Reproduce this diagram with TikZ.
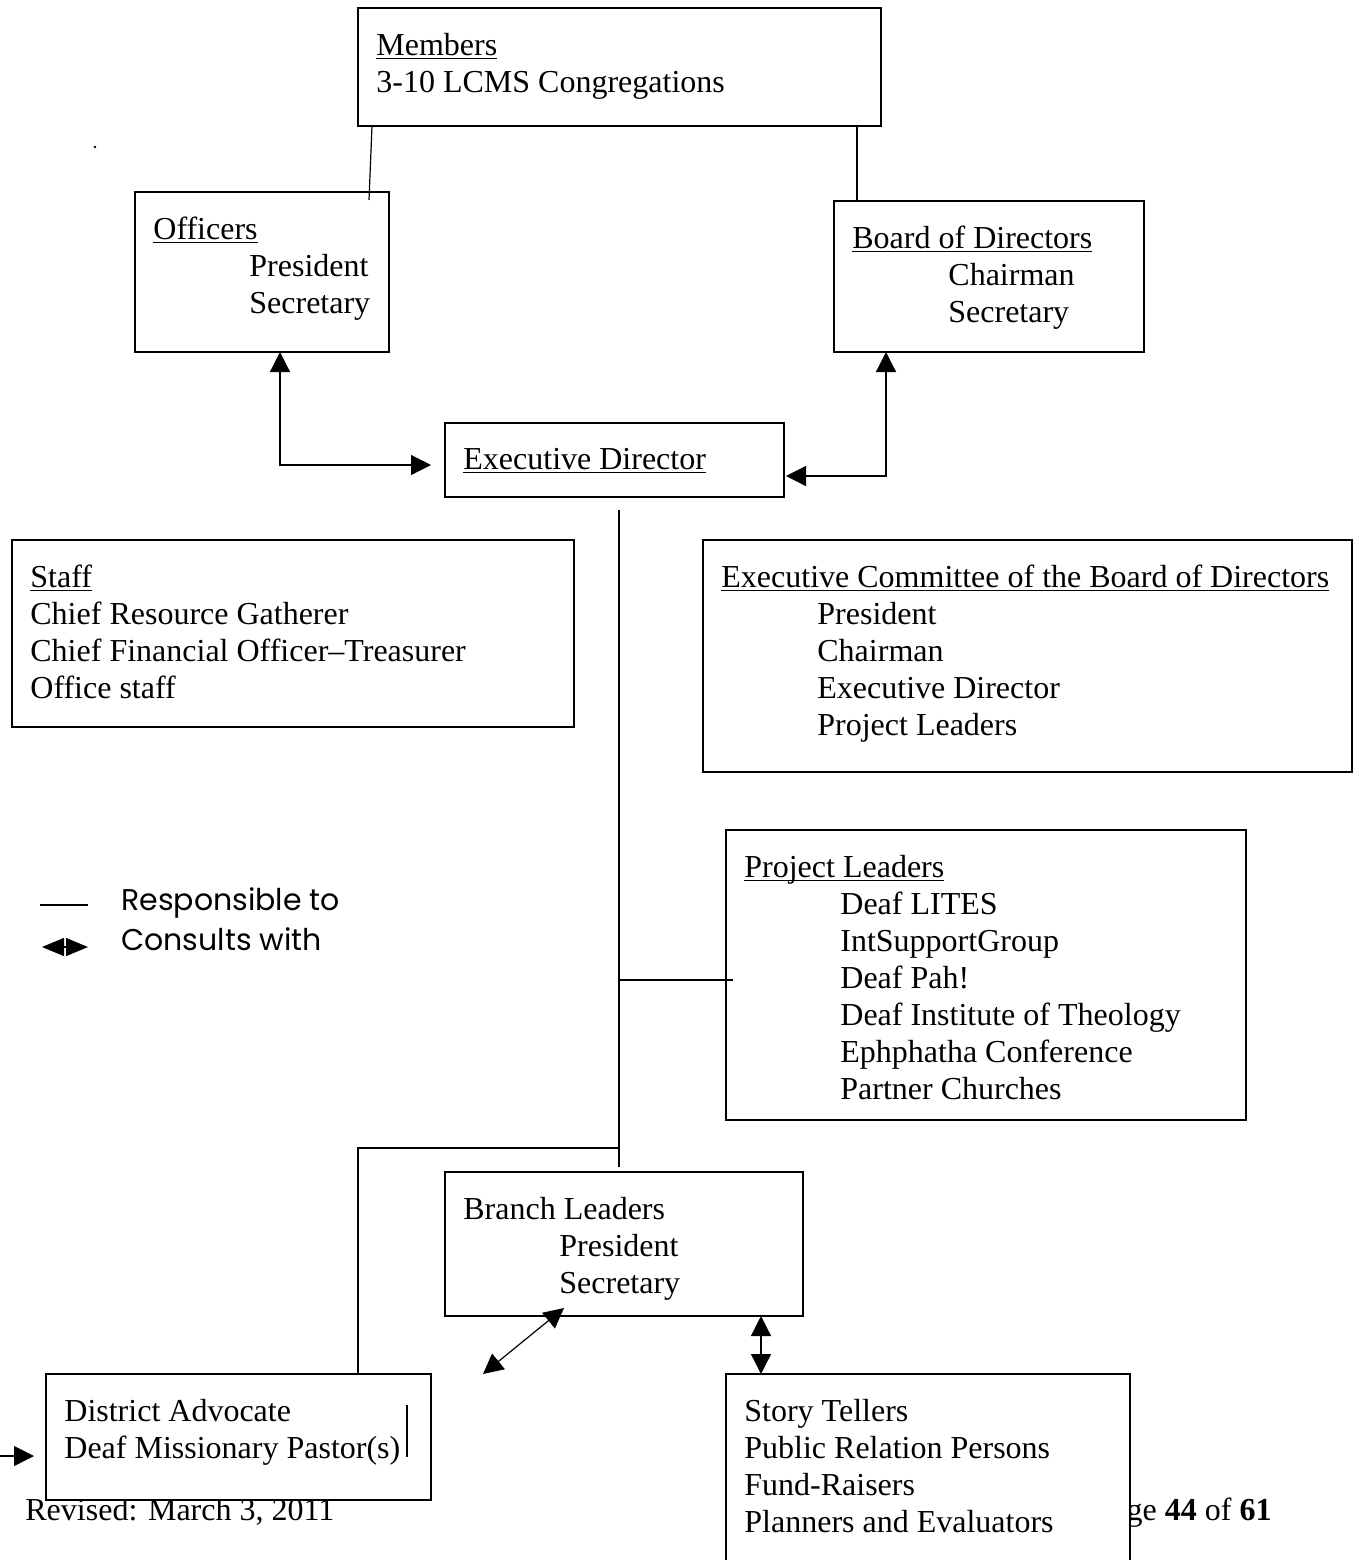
\documentclass[tikz,border=0pt]{standalone}
\usepackage{fontspec}
\setmainfont{Liberation Serif}
\newfontfamily\legendfamily{Poppins}
\usetikzlibrary{arrows.meta}
\newcommand{\boxfont}{\fontsize{16pt}{18.5pt}\selectfont}
\newcommand{\legendfont}{\legendfamily\fontsize{15pt}{18pt}\selectfont}
\newcommand{\widthindent}{48pt}
\newcommand{\padleft}{9pt}
\newcommand{\padtop}{12.5pt}
\newcommand{\hdr}[1]{\underline{\raisebox{0pt}[\height][0pt]{#1}}}
\newcommand{\role}[1]{\hspace*{\widthindent}#1}
\tikzset{
    common/.style={anchor=north west, draw, rectangle, fill=white, inner sep=0pt, outer sep=0pt},
    orgbox/.style={common, line width=1pt},
    boxtext/.style={anchor=north west, align=left, inner sep=0pt, font=\boxfont},
    footer/.style={inner sep=0pt, font=\boxfont},
    legend/.style={inner sep=0pt, anchor=base west, font=\legendfont},
    link/.style={line width=0.6pt},
    consult/.style={link, {Triangle[length=10pt, width=10pt]}-{Triangle[length=10pt, width=10pt]}},
    oneway/.style={link, -{Triangle[length=10pt, width=10pt]}},
    legendconsult/.style={link, {Triangle[length=11pt, width=9pt]}-{Triangle[length=11pt, width=9pt]}}
}
\begin{document}
\begin{tikzpicture}[x=0.5pt, y=-0.5pt]
    \useasboundingbox (0,0) rectangle (1361,1560);
    \clip (0,0) rectangle (1361,1560);

    % page footer, partly hidden behind the boxes
    \node[footer, anchor=base west] (revised) at (25,1520) {Revised: March 3, 2011};
    \node[footer, anchor=base east] (pagenum) at (1272,1520) {Page \textbf{44} of \textbf{61}};

    \fill (95,147) circle (0.7pt);

    % boxes
    \node[orgbox, minimum width=261.5pt, minimum height=59pt] (members) at (358,8) {};
    \node[orgbox, minimum width=127pt, minimum height=80pt] (officers) at (135,192) {};
    \node[orgbox, minimum width=155pt, minimum height=75.5pt] (board) at (834,201) {};
    \node[orgbox, minimum width=169.5pt, minimum height=37pt] (execdir) at (445,423) {};
    \node[orgbox, minimum width=281pt, minimum height=93.5pt] (staff) at (12,540) {};
    \node[orgbox, minimum width=324.5pt, minimum height=116pt] (execcomm) at (703,540) {};
    \node[orgbox, minimum width=260pt, minimum height=145pt] (projects) at (726,830) {};
    \node[orgbox, minimum width=179pt, minimum height=72pt] (branch) at (445,1172) {};
    \node[orgbox, minimum width=192.5pt, minimum height=63pt] (district) at (46,1374) {};
    \node[orgbox, minimum width=202pt, minimum height=110pt] (tellers) at (726,1374) {};

    % box texts
    \node[boxtext] (members-text) at ([shift={(\padleft,-\padtop)}]members.north west)
        {\hdr{Members}\\3-10 LCMS Congregations};
    \node[boxtext] (officers-text) at ([shift={(\padleft,-\padtop)}]officers.north west)
        {\hdr{Officers}\\\role{President}\\\role{Secretary}};
    \node[boxtext] (board-text) at ([shift={(\padleft,-\padtop)}]board.north west)
        {\hdr{Board of Directors}\\\role{Chairman}\\\role{Secretary}};
    \node[boxtext] (execdir-text) at ([shift={(\padleft,-\padtop)}]execdir.north west)
        {\hdr{Executive Director}};
    \node[boxtext] (staff-text) at ([shift={(\padleft,-\padtop)}]staff.north west)
        {\hdr{Staff}\\Chief Resource Gatherer\\Chief Financial Officer–Treasurer\\Office staff};
    \node[boxtext] (execcomm-text) at ([shift={(\padleft,-\padtop)}]execcomm.north west)
        {\hdr{Executive Committee of the Board of Directors}\\\role{President}\\\role{Chairman}\\\role{Executive Director}\\\role{Project Leaders}};
    \node[boxtext] (projects-text) at ([shift={(\padleft,-\padtop)}]projects.north west)
        {\hdr{Project Leaders}\\\role{Deaf LITES}\\\role{IntSupportGroup}\\\role{Deaf Pah!}\\\role{Deaf Institute of Theology}\\\role{Ephphatha Conference}\\\role{Partner Churches}};
    \node[boxtext] (branch-text) at ([shift={(\padleft,-\padtop)}]branch.north west)
        {Branch Leaders\\\role{President}\\\role{Secretary}};
    \node[boxtext] (district-text) at ([shift={(\padleft,-\padtop)}]district.north west)
        {District Advocate\\Deaf Missionary Pastor(s)};
    \node[boxtext] (tellers-text) at ([shift={(\padleft,-\padtop)}]tellers.north west)
        {Story Tellers\\Public Relation Persons\\Fund-Raisers\\Planners and Evaluators};
    \draw[line width=1pt] (407,1405) -- (407,1457);

    % legend
    \node[legend] (legend-resp) at (121,910) {Responsible to};
    \node[legend] (legend-cons) at (121,950) {Consults with};
    \draw[link] (40,905) -- (88,905);
    \draw[legendconsult] (42,947) -- (88,947);

    % connectors
    \coordinate (spine-top) at (619,510);
    \coordinate (spine-bottom) at (619,1167);
    \coordinate (spine-pl) at (619,980);
    \coordinate (spine-da) at (619,1148);
    \coordinate (pl-tick) at (733,980);
    \coordinate (da-free) at (483,1374);
    \coordinate (da-in) at (0,1456);

    \draw[link] ([xshift=7pt]members.south west) -- ([shift={(-10pt,-4pt)}]officers.north east);
    \draw[link] ([xshift=-12pt]members.south east) -- ([xshift=11.5pt]board.north west);
    \draw[consult] ([xshift=72.5pt]officers.south west) |- ([shift={(-7pt,-2.5pt)}]execdir.west);
    \draw[consult] ([xshift=26pt]board.south west) |- ([shift={(1pt,-8pt)}]execdir.east);
    \draw[link] (spine-top) -- (spine-bottom);
    \draw[link] (spine-pl) -- (pl-tick);
    \draw[link] (spine-da) -| ([xshift=156pt]district.north west);
    \draw[consult] ([shift={(59.5pt,4pt)}]branch.south west) -- (da-free);
    \draw[consult] ([xshift=-21pt]branch.south east) -- ([xshift=17.5pt]tellers.north west);
    \draw[oneway] (da-in) -- ([shift={(-6pt,-9.5pt)}]district.west);
\end{tikzpicture}
\end{document}
